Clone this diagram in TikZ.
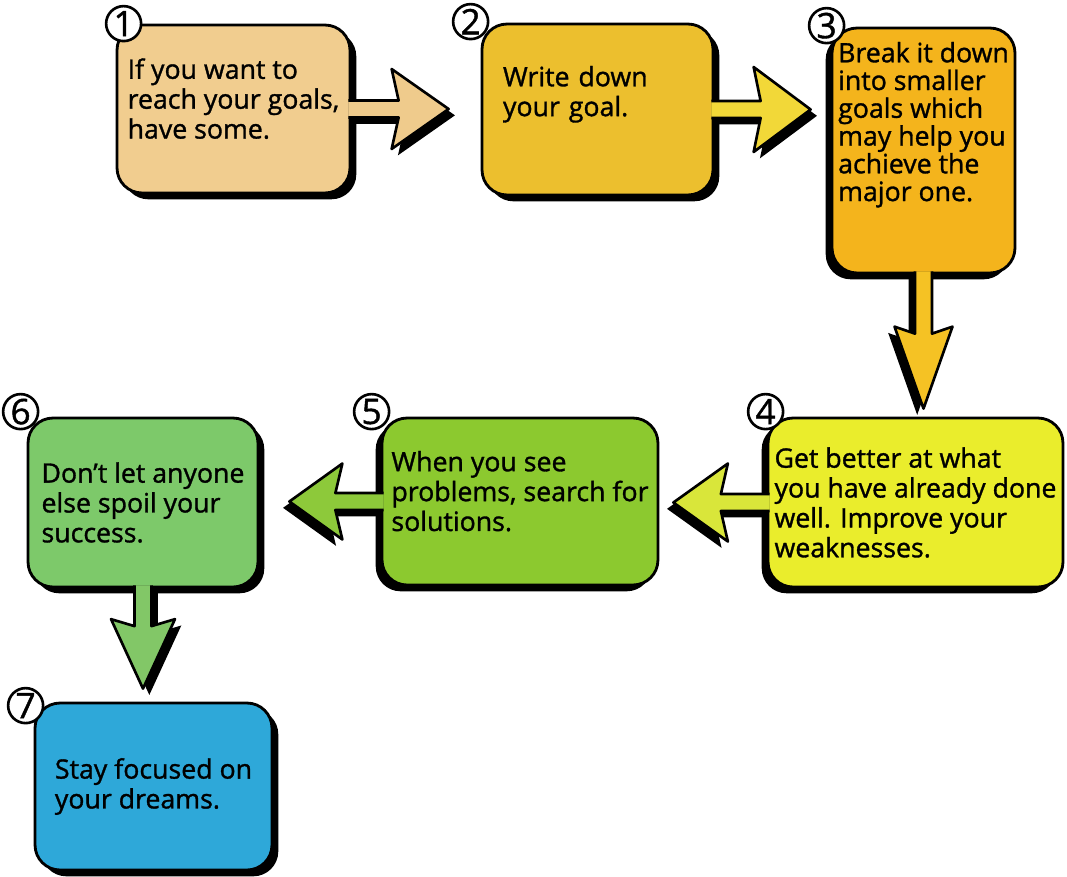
\documentclass[tikz,border=0pt]{standalone}
\usepackage{fontspec}
\setmainfont{Open Sans}
\newfontfamily\goalfont[FakeBold=1.2]{Open Sans}
\usetikzlibrary{calc,shadows}
\definecolor{GoalTan}{HTML}{F1CD8F}
\definecolor{GoalGold}{HTML}{ECBF2E}
\definecolor{GoalAmber}{HTML}{F4B41C}
\definecolor{GoalLemon}{HTML}{EAED2C}
\definecolor{GoalLime}{HTML}{8CC92F}
\definecolor{GoalGreen}{HTML}{7DC96A}
\definecolor{GoalSky}{HTML}{2EA8D9}
\definecolor{ArrowTan}{HTML}{EFCB8C}
\definecolor{ArrowGold}{HTML}{F2D838}
\definecolor{ArrowAmber}{HTML}{F5C224}
\definecolor{ArrowLemon}{HTML}{D9E63A}
\definecolor{ArrowLime}{HTML}{8DC93A}
\definecolor{ArrowGreen}{HTML}{82C767}
\newcommand{\goaltext}{\goalfont\fontsize{15.2}{17}\selectfont}
% block arrow: [style]{start}{tip}{head length}{head half width}
\newcommand{\flowarrow}[5][]{%
  \coordinate (fa-s) at ($(#2)!-0.06cm!(#3)$);
  \coordinate (fa-t) at (#3);
  \coordinate (fa-j) at ($(fa-t)!#4!(fa-s)$);
  \coordinate (fa-b) at ($(fa-t)!#4+0.14cm!(fa-s)$);
  \filldraw[arrowbody,#1] ($(fa-s)!0.17cm!90:(fa-t)$) -- ($(fa-j)!0.17cm!-90:(fa-s)$)
    -- ($(fa-b)!#5!-90:(fa-s)$) -- (fa-t) -- ($(fa-b)!#5!90:(fa-s)$)
    -- ($(fa-j)!0.17cm!90:(fa-s)$) -- ($(fa-s)!0.17cm!-90:(fa-t)$);
}

\begin{document}
\begin{tikzpicture}[x=0.02cm,y=-0.02cm,
  goalbox/.style={draw=black,line width=1.6pt,rounded corners=0.5cm,align=left,inner sep=0pt,font=\goaltext},
  shadowright/.style={drop shadow={shadow xshift=3.6pt,shadow yshift=-3.6pt,fill=black,opacity=1}},
  shadowleft/.style={drop shadow={shadow xshift=-3.6pt,shadow yshift=-3.6pt,fill=black,opacity=1}},
  arrowbody/.style={draw=black,line width=1.5pt,line join=round},
  num/.style={circle,draw=black,fill=white,line width=1.5pt,minimum size=0.7cm,inner sep=0pt,font=\goalfont\fontsize{20}{20}\selectfont}
]
\useasboundingbox (0,0) rectangle (1067,876);
% steps
\node[goalbox,shadowright,fill=GoalTan,minimum width=4.66cm,minimum height=3.36cm,text depth=12pt] (b1) at (233.5,109) {If you want to\\reach your goals,\\have some.};
\node[goalbox,shadowright,fill=GoalGold,minimum width=4.62cm,minimum height=3.42cm,text width=3.78cm,text depth=38pt] (b2) at (597.5,109.5) {Write down\\your goal.};
\node[goalbox,shadowleft,fill=GoalAmber,minimum width=3.66cm,minimum height=4.9cm,text depth=33pt,font=\goalfont\fontsize{15.2}{15.8}\selectfont] (b3) at (923.5,150.5) {Break it down\\into smaller\\goals which\\may help you\\achieve the\\major one.};
\node[goalbox,shadowleft,fill=GoalLemon,minimum width=5.9cm,minimum height=3.38cm] (b4) at (915.5,502.5) {Get better at what\\you have already done\\well. Improve your\\weaknesses.};
\node[goalbox,shadowleft,fill=GoalLime,minimum width=5.52cm,minimum height=3.34cm,text depth=12pt] (b5) at (520,501.5) {When you see\\problems, search for\\solutions.};
\node[goalbox,shadowright,fill=GoalGreen,minimum width=4.6cm,minimum height=3.38cm] (b6) at (143,502.5) {Don’t let anyone\\else spoil your\\success.};
\node[goalbox,shadowright,fill=GoalSky,minimum width=4.74cm,minimum height=3.34cm] (b7) at (153.5,786.5) {Stay focused on\\your dreams.};
% arrows
\flowarrow[fill=ArrowTan,shadowright]{b1.east}{$(b2.west |- b1.east)+(-32,0)$}{1.0cm}{0.8cm}
\flowarrow[fill=ArrowGold,shadowright]{b2.east}{$(b3.west |- b2.east)+(-20,0)$}{1.0cm}{0.85cm}
\flowarrow[fill=ArrowAmber,shadowleft]{b3.south}{$(b3.south |- b4.north)+(0,-8)$}{1.5cm}{0.58cm}
\flowarrow[fill=ArrowLemon,shadowleft]{b4.west}{$(b5.east |- b4.west)+(14,0)$}{0.95cm}{0.78cm}
\flowarrow[fill=ArrowLime,shadowleft]{b5.west}{$(b6.east |- b5.west)+(30,0)$}{0.92cm}{0.76cm}
\flowarrow[fill=ArrowGreen,shadowright]{b6.south}{$(b6.south |- b7.north)+(0,-13)$}{1.25cm}{0.64cm}
% step numbers
\foreach \i/\dx/\dy in {1/8/0,2/-10/-1,3/-4/-1,4/-1/-5,5/-9/-5,6/-6/-5,7/-8/4}
  \node[num] (n\i) at ([shift={(\dx,\dy)}]b\i.north west) {\i};
\end{tikzpicture}
\end{document}
